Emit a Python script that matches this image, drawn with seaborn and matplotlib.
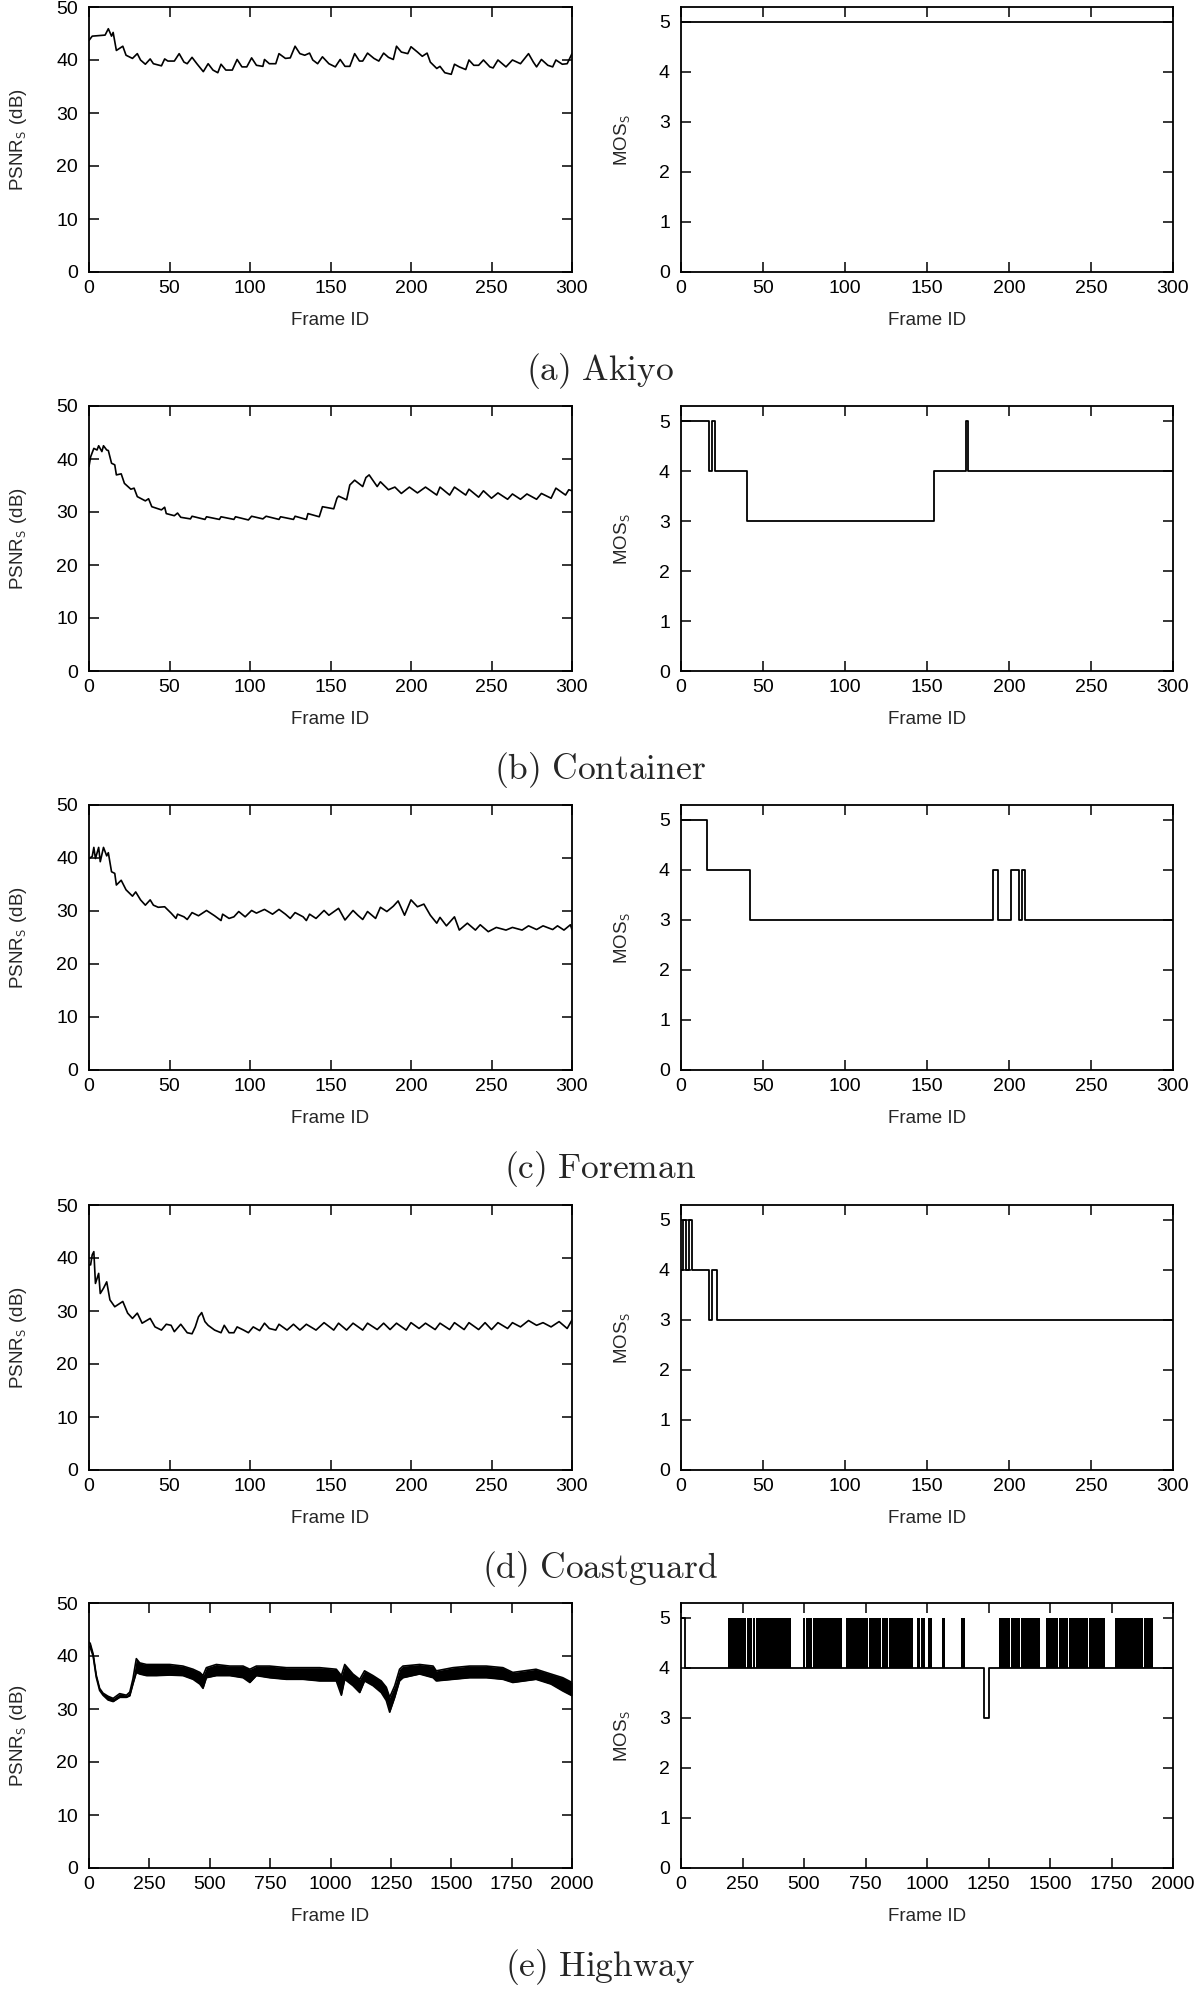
import matplotlib
matplotlib.use("Agg")
import matplotlib.pyplot as plt
import seaborn as sns

# PSNR per frame (peaks/troughs of the curves)
akiyo_frame = [0, 2, 10, 12, 14, 15, 17, 19, 21, 23, 27, 30, 32, 35, 38, 40, 45, 47, 49, 53,
               56, 59, 61, 64, 67, 71, 74, 77, 80, 82, 85, 89, 92, 95, 98, 101, 104, 108, 109, 112,
               116, 118, 122, 125, 128, 131, 134, 137, 139, 142, 145, 149, 153, 156, 159, 162, 165, 168, 170, 173,
               177, 180, 183, 186, 189, 191, 194, 198, 200, 204, 207, 210, 212, 216, 218, 221, 225, 227, 230, 234,
               236, 239, 242, 245, 249, 251, 254, 259, 263, 268, 273, 276, 278, 281, 285, 288, 290, 294, 297, 300]
akiyo_psnr = [43.7, 44.5, 44.7, 45.9, 44.5, 45.2, 41.8, 42.2, 42.6, 40.9, 40.3, 41.2, 40.0, 39.2, 40.2, 39.3, 38.9, 40.2, 39.8, 39.8,
              41.2, 39.6, 39.3, 40.5, 39.3, 37.8, 39.3, 38.1, 37.6, 39.2, 38.1, 38.1, 40.1, 38.7, 38.7, 40.4, 39.0, 38.8, 40.1, 39.3,
              39.3, 41.2, 40.3, 40.4, 42.6, 41.2, 40.9, 41.3, 40.0, 39.3, 40.6, 39.3, 38.7, 40.1, 38.8, 38.8, 41.2, 39.8, 39.8, 41.3,
              40.3, 39.8, 41.3, 40.5, 40.1, 42.6, 41.5, 41.2, 42.5, 41.5, 40.7, 41.3, 39.6, 38.4, 38.8, 37.6, 37.3, 39.2, 38.7, 38.2,
              40.0, 39.0, 39.0, 40.0, 38.7, 38.5, 40.0, 38.7, 40.0, 39.3, 41.2, 39.6, 38.7, 40.1, 39.0, 38.7, 40.0, 39.2, 39.3, 41.2]

container_frame = [0, 1, 3, 5, 6, 8, 9, 11, 12, 14, 16, 17, 20, 22, 26, 28, 30, 35, 37, 39,
                   45, 47, 48, 53, 55, 57, 63, 64, 72, 73, 81, 82, 90, 91, 99, 101, 108, 110, 118, 119,
                   127, 128, 135, 136, 143, 145, 152, 154, 155, 160, 162, 165, 170, 172, 174, 179, 181, 186, 190, 194,
                   199, 204, 209, 216, 218, 224, 227, 234, 236, 242, 245, 250, 254, 260, 263, 268, 272, 278, 281, 287,
                   290, 296, 298, 300]
container_psnr = [38.6, 40.4, 42.0, 41.7, 42.5, 41.4, 42.5, 41.7, 41.6, 39.2, 38.9, 37.0, 37.2, 35.4, 34.3, 34.5, 32.9, 32.1, 32.5, 31.0,
                  30.4, 30.9, 29.7, 29.3, 29.8, 29.0, 28.7, 29.2, 28.6, 29.1, 28.6, 29.1, 28.6, 29.1, 28.5, 29.2, 28.7, 29.2, 28.6, 29.1,
                  28.6, 29.2, 28.6, 29.7, 29.1, 31.0, 30.6, 32.6, 33.0, 32.3, 35.1, 36.0, 34.8, 36.5, 37.0, 34.8, 35.7, 34.2, 34.7, 33.5,
                  34.7, 33.6, 34.7, 33.2, 34.7, 33.2, 34.7, 33.2, 34.3, 32.8, 34.0, 32.6, 33.6, 32.4, 33.4, 32.4, 33.4, 32.4, 33.5, 32.6,
                  34.5, 33.2, 34.2, 34.0]

foreman_frame = [0, 2, 3, 4, 6, 7, 9, 11, 12, 14, 16, 17, 20, 23, 27, 29, 32, 35, 38, 40,
                 43, 47, 51, 54, 55, 59, 61, 64, 68, 73, 78, 82, 83, 87, 90, 93, 97, 101, 104, 109,
                 114, 118, 122, 125, 128, 133, 135, 137, 141, 146, 149, 155, 159, 164, 167, 170, 173, 178, 181, 185,
                 189, 192, 196, 200, 204, 208, 212, 216, 218, 222, 227, 230, 235, 240, 243, 248, 253, 259, 263, 269,
                 273, 278, 282, 288, 291, 295, 299, 300]
foreman_psnr = [39.9, 40.3, 42.0, 39.9, 42.0, 39.3, 42.0, 40.4, 41.0, 37.4, 37.1, 34.9, 35.8, 34.0, 32.8, 33.6, 32.1, 31.1, 32.1, 31.1,
                30.7, 30.8, 29.6, 28.6, 29.4, 28.9, 28.4, 29.7, 29.1, 30.1, 29.1, 28.2, 29.4, 28.6, 28.9, 29.9, 28.9, 30.1, 29.6, 30.3,
                29.4, 30.3, 29.4, 28.6, 29.7, 28.9, 28.2, 29.4, 28.6, 30.1, 29.2, 30.5, 28.3, 30.1, 29.2, 28.4, 29.9, 28.6, 30.7, 29.9,
                30.9, 31.9, 29.2, 32.1, 30.8, 31.3, 29.2, 27.7, 28.8, 27.2, 28.9, 26.4, 27.7, 26.4, 27.4, 26.1, 26.9, 26.4, 26.9, 26.4,
                27.2, 26.5, 27.2, 26.5, 27.2, 26.4, 27.4, 26.5]

coast_frame = [0, 1, 2, 3, 4, 6, 7, 9, 11, 13, 16, 21, 24, 27, 30, 33, 38, 41, 45, 48,
               51, 53, 57, 61, 64, 66, 68, 70, 72, 74, 78, 82, 84, 87, 90, 92, 96, 99, 102, 106,
               109, 112, 116, 118, 123, 127, 131, 135, 141, 146, 152, 155, 160, 164, 170, 173, 179, 183, 187, 191,
               197, 200, 205, 209, 215, 218, 224, 227, 233, 236, 242, 246, 250, 254, 260, 263, 268, 273, 278, 282,
               287, 292, 297, 300]
coast_psnr = [38.7, 38.7, 40.6, 41.2, 35.2, 37.1, 33.3, 34.3, 35.5, 32.1, 30.8, 31.8, 29.6, 28.6, 29.6, 27.7, 28.6, 27.0, 26.4, 27.5,
              27.3, 26.1, 27.5, 25.9, 25.7, 27.0, 28.9, 29.7, 28.0, 27.3, 26.4, 25.9, 27.3, 25.9, 25.9, 27.0, 26.4, 25.9, 27.0, 26.3,
              27.7, 26.7, 26.4, 27.5, 26.4, 27.5, 26.4, 27.5, 26.4, 27.8, 26.4, 27.7, 26.4, 27.7, 26.4, 27.7, 26.5, 27.7, 26.5, 27.7,
              26.4, 27.8, 26.7, 27.7, 26.5, 27.7, 26.5, 27.8, 26.5, 27.8, 26.5, 27.8, 26.5, 27.8, 26.7, 27.8, 27.0, 28.2, 27.3, 27.8,
              27.0, 28.0, 26.7, 28.3]

# Highway: the curve oscillates fast, so keep its lower / upper envelope
hw_frame = [0, 5, 17, 30, 44, 58, 79, 100, 127, 155, 169, 182, 196, 210, 238, 279, 334, 389, 431, 459,
            472, 486, 527, 583, 638, 666, 693, 748, 817, 886, 955, 1024, 1045, 1059, 1093, 1121, 1141, 1176, 1210, 1231,
            1245, 1266, 1286, 1300, 1369, 1425, 1438, 1507, 1576, 1645, 1714, 1755, 1851, 1913, 1962, 2000]
hw_psnr_high = [42.6, 42.4, 40.4, 36.4, 33.9, 33.0, 32.4, 32.0, 32.9, 32.6, 33.2, 35.7, 39.5, 38.7, 38.4, 38.4, 38.4, 38.1, 37.5, 36.9,
                36.3, 37.8, 38.4, 38.1, 38.1, 37.5, 38.1, 38.1, 37.8, 37.8, 37.8, 37.5, 36.3, 38.4, 36.6, 35.6, 37.2, 36.3, 35.3, 34.1,
                32.2, 34.4, 37.5, 38.1, 38.4, 38.1, 37.2, 37.8, 38.1, 38.1, 37.8, 36.9, 37.5, 36.6, 35.9, 35.0]
hw_psnr_low = [41.8, 41.6, 40.0, 36.0, 33.5, 32.6, 31.7, 31.4, 32.2, 32.2, 32.5, 34.7, 36.9, 36.6, 36.3, 36.3, 36.4, 36.3, 35.6, 34.7,
               33.9, 35.9, 36.3, 36.3, 35.9, 35.0, 36.3, 35.9, 35.6, 35.6, 35.3, 35.3, 32.6, 35.6, 34.4, 33.1, 35.3, 34.4, 33.1, 31.6,
               29.4, 32.2, 35.3, 35.9, 36.6, 35.9, 35.3, 35.6, 35.9, 35.9, 35.6, 35.0, 35.6, 34.7, 33.4, 32.5]

# MOS step series: frame where a level starts, and the level
akiyo_mos_frame = [0, 300]
akiyo_mos = [5, 5]
container_mos_frame = [0, 17, 19, 21, 40, 154, 174, 175, 300]
container_mos = [5, 4, 5, 4, 3, 4, 5, 4, 4]
foreman_mos_frame = [0, 16, 42, 190, 193, 201, 206, 208, 210, 300]
foreman_mos = [5, 4, 3, 4, 3, 4, 3, 4, 3, 3]
coast_mos_frame = [0, 1, 3, 5, 7, 17, 19, 22, 300]
coast_mos = [4, 5, 4, 5, 4, 3, 4, 3, 3]
hw_mos_frame = [0, 18, 1232, 1252, 2000]
hw_mos = [5, 4, 3, 4, 4]
# Highway: frame ranges where MOS flickers between 4 and 5
hw_flicker_start = [191, 208, 217, 233, 267, 291, 304, 347, 388, 408, 428, 439,
                    496, 508, 535, 575, 615, 635,
                    672, 696, 729, 763, 790, 817, 844, 871, 884, 911,
                    960, 977, 1004, 1060, 1140,
                    1293, 1314, 1341, 1381, 1415, 1435,
                    1483, 1502, 1536, 1576, 1623, 1657, 1684,
                    1765, 1810, 1850, 1882]
hw_flicker_end = [206, 215, 231, 265, 289, 302, 345, 386, 406, 426, 437, 448,
                  506, 533, 573, 613, 633, 655,
                  694, 727, 761, 788, 815, 842, 869, 882, 909, 944,
                  970, 993, 1021, 1075, 1156,
                  1312, 1339, 1379, 1413, 1433, 1461,
                  1500, 1534, 1574, 1621, 1655, 1682, 1725,
                  1808, 1848, 1880, 1917]

captions = ["(a)\\ Akiyo", "(b)\\ Container", "(c)\\ Foreman", "(d)\\ Coastguard", "(e)\\ Highway"]

sns.set_style("ticks")
plt.rcParams["font.family"] = ["Liberation Sans", "DejaVu Sans"]
plt.rcParams["mathtext.fontset"] = "cm"

W, H = 1200, 1997
fig = plt.figure(figsize=(W / 100, H / 100), dpi=100)
fig.patch.set_facecolor("white")

row_tops = [7, 406, 805, 1205, 1603]
ax_h = 265


def make_axes(left_px, width_px, top_px):
    return fig.add_axes([left_px / W, 1 - (top_px + ax_h) / H, width_px / W, ax_h / H])


def style(ax, xmax, xstep, ylim, yticks, ylabel, ylab_x):
    ax.set_xlim(0, xmax)
    ax.set_ylim(*ylim)
    ax.set_xticks(range(0, xmax + 1, xstep))
    ax.set_yticks(yticks)
    ax.tick_params(direction="in", length=7, width=1.1, top=True, right=True,
                   labelsize=14, colors="black")
    ax.tick_params(axis="x", pad=6)
    ax.tick_params(axis="y", pad=8)
    for s in ax.spines.values():
        s.set_linewidth(1.3)
        s.set_color("black")
    ax.set_xlabel("Frame ID", fontsize=13.5)
    ax.set_ylabel(ylabel, fontsize=13.5)
    ax.xaxis.set_label_coords(0.5, -0.152)
    ax.yaxis.set_label_coords(ylab_x, 0.5)
    ax.set_facecolor("white")


psnr_sets = [(akiyo_frame, akiyo_psnr), (container_frame, container_psnr),
             (foreman_frame, foreman_psnr), (coast_frame, coast_psnr)]
mos_sets = [(akiyo_mos_frame, akiyo_mos), (container_mos_frame, container_mos),
            (foreman_mos_frame, foreman_mos), (coast_mos_frame, coast_mos),
            (hw_mos_frame, hw_mos)]

for i, top in enumerate(row_tops):
    axl = make_axes(89, 483, top)
    axr = make_axes(681, 492, top)
    xmax, xstep = (300, 50) if i < 4 else (2000, 250)

    # left: PSNR
    if i < 4:
        fr, ps = psnr_sets[i]
        sns.lineplot(x=fr, y=ps, ax=axl, color="black", lw=1.2, estimator=None)
    else:
        axl.fill_between(hw_frame, hw_psnr_low, hw_psnr_high, color="black", lw=0)
        sns.lineplot(x=hw_frame, y=hw_psnr_high, ax=axl, color="black", lw=1.2, estimator=None)
        sns.lineplot(x=hw_frame, y=hw_psnr_low, ax=axl, color="black", lw=1.2, estimator=None)
    style(axl, xmax, xstep, (0, 50), range(0, 51, 10), "PSNR$_{\\mathsf{S}}$ (dB)", -0.124)

    # right: MOS
    fr, ms = mos_sets[i]
    if i == 4:
        axr.bar(hw_flicker_start, 1, bottom=4,
                width=[e - s for s, e in zip(hw_flicker_start, hw_flicker_end)],
                align="edge", color="black", linewidth=0)
    sns.lineplot(x=fr, y=ms, ax=axr, color="black", lw=1.3, estimator=None,
                 drawstyle="steps-post")
    style(axr, xmax, xstep, (0, 5.3), range(0, 6), "MOS$_{\\mathsf{S}}$", -0.098)

    cap_y = 1 - (top + ax_h + 99) / H
    fig.text(0.5, cap_y, "$\\mathrm{" + captions[i] + "}$", ha="center", va="center", fontsize=25.5)

fig.savefig("out.png", dpi=100, facecolor="white")
